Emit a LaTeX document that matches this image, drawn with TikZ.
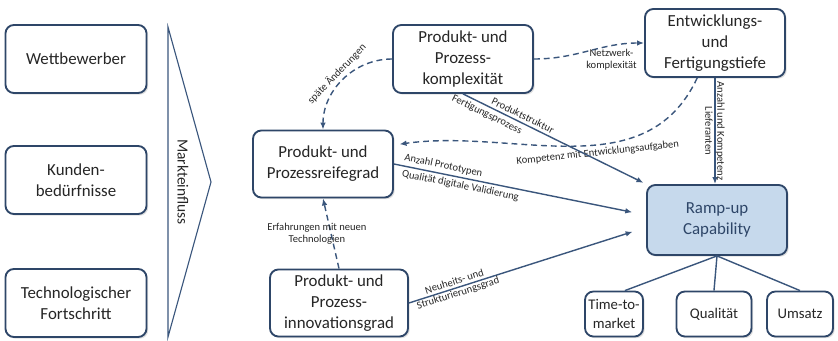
\documentclass[tikz,border=0pt]{standalone}
\usepackage{fontspec}
\setmainfont{Carlito}
\usetikzlibrary{arrows.meta,shadows}
\definecolor{boxline}{RGB}{46,70,104}
\definecolor{linkline}{RGB}{58,86,124}
\definecolor{rampfill}{RGB}{198,217,236}
\definecolor{txt}{RGB}{38,38,38}

\begin{document}
\begin{tikzpicture}[x=0.025cm, y=0.025cm,
    box/.style={draw=boxline, line width=1.3pt, rounded corners=6pt, fill=white, align=center,
        text=txt, inner sep=0pt, font=\fontsize{12}{15}\selectfont,
        drop shadow={opacity=0.25, shadow xshift=1.2pt, shadow yshift=-1.2pt}},
    bigbox/.style={box, minimum width=3.5cm, minimum height=1.7cm},
    smallbox/.style={box, minimum height=1.125cm, font=\fontsize{10.5}{13.5}\selectfont},
    link/.style={draw=linkline, line width=1pt, -{Latex[length=5pt,width=4pt]}},
    dlink/.style={link, dash pattern=on 4.2pt off 2.8pt},
    lab/.style={font=\fontsize{7.5}{8.5}\selectfont, text=txt, inner sep=2pt, align=center}]
    \useasboundingbox (0,0) rectangle (838,-341);

    \node[bigbox, minimum width=3.525cm] (wett) at (76,-59) {Wettbewerber};
    \node[bigbox, minimum width=3.525cm] (kunden) at (76,-180) {Kunden-\\bedürfnisse};
    \node[bigbox, minimum width=3.525cm] (techfs) at (76,-303) {Technologischer\\Fortschritt};
    \draw[linkline, line width=0.8pt] (168,-27) -- (211,-182) -- (168,-337) -- cycle;
    \node[rotate=-90, text=txt, font=\fontsize{11}{13}\selectfont] (markt) at (183,-182) {Markteinfluss};

    \node[bigbox] (komplex) at (463,-59) {Produkt- und\\Prozess-\\komplexität};
    \node[bigbox] (tiefe) at (715,-43) {Entwicklungs-\\und\\Fertigungstiefe};
    \node[bigbox, minimum height=1.675cm] (reife) at (323,-164) {Produkt- und\\Prozessreifegrad};
    \node[bigbox, minimum width=3.45cm, minimum height=1.675cm] (innov) at (339,-303) {Produkt- und\\Prozess-\\innovationsgrad};
    \node[bigbox, minimum height=1.75cm, fill=rampfill, text=boxline] (ramp) at (717,-220) {Ramp-up\\Capability};

    \node[smallbox, minimum width=1.45cm] (ttm) at (614,-314) {Time-to-\\market};
    \node[smallbox, minimum width=1.875cm] (qual) at (714,-314) {Qualität};
    \node[smallbox, minimum width=1.65cm] (umsatz) at (800,-314) {Umsatz};

    \draw[link, -] (ramp.south) -- (ttm.65);
    \draw[link, -] (ramp.south) -- (qual.north);
    \draw[link, -] (ramp.south) -- (umsatz.north);

    \draw[link] (tiefe.south) -- (tiefe.south |- ramp.north) node[midway, lab, inner sep=1pt, rotate=-90] {Anzahl und Kompetenz\\Lieferanten};
    \draw[dlink] (komplex.east) to[out=0, in=180] node[pos=0.72, below, lab] {Netzwerk-\\komplexität} (tiefe.west);
    \draw[dlink] (komplex.west) to[out=180, in=90] node[midway, sloped, above, lab] {späte Änderungen} (reife.north);
    \draw[dlink, shorten >=4pt] (tiefe.243) to[out=-115, in=8] node[pos=0.42, sloped, below, lab] {Kompetenz mit Entwicklungsaufgaben} (reife.15);
    \draw[link, shorten >=2pt] (komplex.south) -- node[pos=0.31, sloped, above, lab] {Produktstruktur} node[pos=0.15, sloped, below, lab] {Fertigungsprozess} (ramp.north west);
    \draw[link, shorten >=10pt] (reife.east) -- node[pos=0.19, sloped, above, lab] {Anzahl Prototypen} node[pos=0.27, sloped, below, lab] {Qualität digitale Validierung} (ramp.176);
    \draw[link, shorten >=10pt] (innov.east) -- node[pos=0.2, sloped, lab, inner sep=1pt] {Neuheits- und\\Strukturierungsgrad} (ramp.186);
    \draw[dlink] (innov.north) -- node[midway, lab, xshift=-10pt] {Erfahrungen mit neuen\\Technologien} (reife.south);
\end{tikzpicture}
\end{document}
